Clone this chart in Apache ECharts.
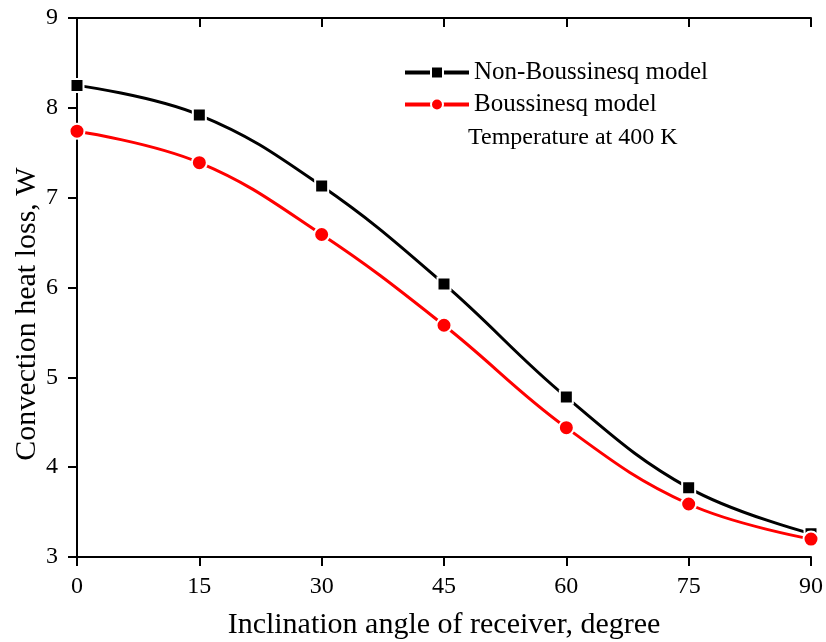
<!DOCTYPE html>
<html><head><meta charset="utf-8">
<script src="https://cdn.jsdelivr.net/npm/echarts@6/dist/echarts.min.js"></script>
<style>html,body{margin:0;padding:0;background:#fff}#c{width:826px;height:642px}</style>
</head><body><div id="c"></div>
<script>
const angles = [0, 15, 30, 45, 60, 75, 90];
const nonBoussinesq = [8.25, 7.92, 7.13, 6.04, 4.78, 3.77, 3.26];
const boussinesq = [7.74, 7.39, 6.59, 5.58, 4.44, 3.59, 3.20];
const xTicks = [0, 15, 30, 45, 60, 75, 90];
const yTicks = [3, 4, 5, 6, 7, 8, 9];

const font = '"Liberation Serif", "Times New Roman", serif';
const chart = echarts.init(document.getElementById('c'));
const axisLine = {show: true, lineStyle: {color: '#000', width: 2}};
chart.setOption({
  animation: false,
  grid: {left: 77, right: 15, top: 18, bottom: 85, containLabel: false, outerBoundsMode: 'none'},
  legend: {
    left: 398, top: 55, orient: 'vertical', itemGap: 7,
    itemWidth: 64, itemHeight: 15,
    lineStyle: {width: 4},
    textStyle: {fontFamily: font, fontSize: 25, color: '#000'},
    data: ['Non-Boussinesq model', 'Boussinesq model']
  },
  graphic: [
    {type: 'text', left: 468, top: 126,
      style: {text: 'Temperature at 400 K', font: '24px ' + font, fill: '#000'}},
    {type: 'text', x: 27, y: 314, rotation: Math.PI / 2,
      style: {text: 'Convection heat loss, W', font: '30px ' + font, fill: '#000',
        textAlign: 'center', textVerticalAlign: 'middle'}}
  ],
  xAxis: [{
    type: 'value', min: 0, max: 90, interval: 15,
    name: 'Inclination angle of receiver, degree', nameLocation: 'middle', nameGap: 53,
    nameTextStyle: {fontFamily: font, fontSize: 30, color: '#000'},
    axisLine: axisLine, axisTick: {show: true, length: 9, lineStyle: {color: '#000', width: 2}},
    axisLabel: {fontFamily: font, fontSize: 24, color: '#000', margin: 18,
      formatter: v => xTicks.includes(v) ? String(v) : ''},
    splitLine: {show: false}
  }, {
    type: 'value', position: 'top', min: 0, max: 90, interval: 15,
    axisLine: axisLine, axisTick: {show: true, inside: true, length: 9, lineStyle: {color: '#000', width: 2}},
    axisLabel: {show: false}, splitLine: {show: false}
  }],
  yAxis: [{
    type: 'value', min: 3, max: 9, interval: 1,
    axisLine: axisLine, axisTick: {show: true, length: 9, lineStyle: {color: '#000', width: 2}},
    axisLabel: {fontFamily: font, fontSize: 24, color: '#000', margin: 19,
      formatter: v => yTicks.includes(v) ? String(v) : ''},
    splitLine: {show: false}
  }, {
    type: 'value', position: 'right', min: 3, max: 9, interval: 1,
    axisLine: axisLine, axisTick: {show: true, inside: true, length: 9, lineStyle: {color: '#000', width: 2}},
    axisLabel: {show: false}, splitLine: {show: false}
  }],
  series: [{
    name: 'Non-Boussinesq model', type: 'line', smooth: 0.4,
    data: angles.map((a, i) => [a, nonBoussinesq[i]]),
    symbol: 'rect', symbolSize: 13,
    lineStyle: {color: '#000', width: 3},
    itemStyle: {color: '#000', borderColor: '#fff', borderWidth: 2}
  }, {
    name: 'Boussinesq model', type: 'line', smooth: 0.4,
    data: angles.map((a, i) => [a, boussinesq[i]]),
    symbol: 'circle', symbolSize: 15,
    lineStyle: {color: '#ff0000', width: 3},
    itemStyle: {color: '#ff0000', borderColor: '#fff', borderWidth: 2}
  }]
});
</script></body></html>
